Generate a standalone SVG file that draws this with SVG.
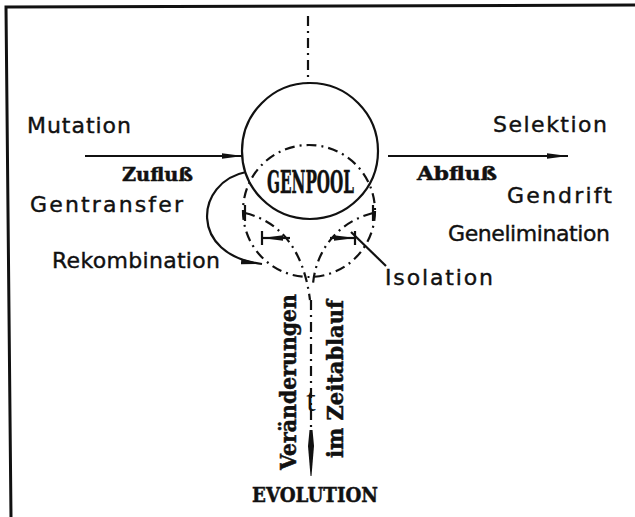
<svg xmlns="http://www.w3.org/2000/svg" width="635" height="517" viewBox="0 0 635 517">
<style>
.hand{font-family:"DejaVu Sans","Liberation Sans",sans-serif;font-size:22px;fill:#111;stroke:#111;stroke-width:0.4}
.slab{font-family:"DejaVu Serif","Liberation Serif",serif;font-weight:bold;fill:#111;stroke:#111;stroke-width:0.5}
.solid{fill:none;stroke:#111;stroke-width:2.2}
.dd{fill:none;stroke:#111;stroke-width:2.2;stroke-dasharray:10 5 2 5}
</style>
<defs>
<marker id="ah" markerUnits="userSpaceOnUse" markerWidth="22" markerHeight="8" refX="21" refY="4" orient="auto">
<path d="M0,1.2 L21,4 L0,6.8 Z" fill="#111"/>
</marker>
</defs>
<rect width="635" height="517" fill="#fff"/>
<path d="M11,517 L6,7 L635,5" fill="none" stroke="#111" stroke-width="3"/>

<g id="genpool">
<circle cx="310" cy="151" r="68" class="solid" stroke-width="3"/>
<circle cx="309" cy="211" r="66" class="dd"/>
<text transform="translate(267,193) scale(0.506,1)" class="slab" font-size="31" stroke-width="0.9" textLength="172" lengthAdjust="spacingAndGlyphs">GENPOOL</text>
</g>

<g id="connectors">
<path d="M308,16 L308,83" class="dd" stroke-dasharray="7 4 2 4"/>
<path d="M85,156 L243,156" class="solid" marker-end="url(#ah)"/>
<path d="M388,156 L568,156" class="solid" marker-end="url(#ah)"/>
<path d="M246,172 C195,182 188,255 262,264" class="solid" marker-end="url(#ah)"/>
<path d="M245,213 C282,222 304,252 310,300" class="dd"/>
<path d="M245,205 L245,221" class="solid"/>
<path d="M373,213 C338,222 316,250 313,284" class="dd"/>
<path d="M373,205 L373,221" class="solid"/>
<path d="M290,238 L262,238" class="solid" marker-end="url(#ah)"/>
<path d="M262,231 L262,245" class="solid"/>
<path d="M330,238 L355,238" class="solid" marker-end="url(#ah)"/>
<path d="M355,231 L355,245" class="solid"/>
<path d="M351,232 L386,266" class="solid" stroke-width="1.8"/>
<path d="M311,300 L311,430" class="dd" stroke-dasharray="8 4 2 4"/>
<path d="M309.5,430 L312.5,430 L314,446 L311.5,476 L310.5,476 L308,446 Z" fill="#111"/>
</g>

<g id="inflow">
<text x="27" y="133" class="hand" textLength="104" lengthAdjust="spacing">Mutation</text>
<text x="122" y="181" class="slab" font-size="19" textLength="71" lengthAdjust="spacingAndGlyphs">Zufluß</text>
<text x="30" y="212" class="hand" textLength="153" lengthAdjust="spacing">Gentransfer</text>
<text x="52" y="268" class="hand" textLength="168" lengthAdjust="spacing">Rekombination</text>
</g>

<g id="outflow">
<text x="493" y="132" class="hand" textLength="114" lengthAdjust="spacing">Selektion</text>
<text x="417" y="180" class="slab" font-size="19" textLength="80" lengthAdjust="spacingAndGlyphs">Abfluß</text>
<text x="507" y="203" class="hand" textLength="105" lengthAdjust="spacing">Gendrift</text>
<text x="448" y="241" class="hand" textLength="162" lengthAdjust="spacing">Genelimination</text>
<text x="385" y="285" class="hand" textLength="108" lengthAdjust="spacing">Isolation</text>
</g>

<g id="evolution">
<text transform="translate(296,470) rotate(-90)" class="slab" font-size="22" textLength="176" lengthAdjust="spacingAndGlyphs">Veränderungen</text>
<text transform="translate(343,458) rotate(-90)" class="slab" font-size="22" textLength="158" lengthAdjust="spacingAndGlyphs">im Zeitablauf</text>
<text x="311" y="411" font-family="Liberation Serif,serif" font-size="34" fill="#111" text-anchor="middle">t</text>
<text x="252" y="502" class="slab" font-size="21" textLength="126" lengthAdjust="spacingAndGlyphs">EVOLUTION</text>
</g>
</svg>
